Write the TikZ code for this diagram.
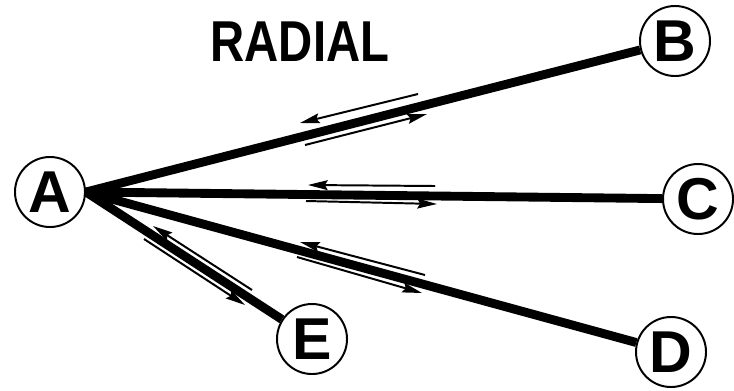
\documentclass[tikz,border=0pt]{standalone}
\usepackage{fontspec}
\setmainfont{Liberation Sans}
\usetikzlibrary{
	arrows.meta,
	positioning,
	calc
}

\tikzset{
	station/.style={draw, circle, line width=1.4pt, minimum size=1.75cm, inner sep=0pt,
		font=\fontsize{42}{42}\selectfont\bfseries},
	feeder/.style={line width=6.3pt},
	flow/.style={line width=1.4pt, -{Stealth[length=14pt,width=7pt,inset=2pt]}}
}

\begin{document}
\begin{tikzpicture}[x=0.025cm,y=-0.025cm]
		\useasboundingbox (0,0) rectangle (734,390);
		
		% Title
		\node[font=\fontsize{41}{41}\selectfont\bfseries] (title) at (300,42) {\scalebox{0.82}[1]{RADIAL}};
		
		% Stations
		\node[station] (A) at (50,192) {A};
		\node[station] (B) at (675,41) {B};
		\node[station] (C) at (698,199) {C};
		\node[station] (D) at (671,352) {D};
		\node[station] (E) at (312,339) {E};
		
		% Feeders out of A
		\draw[feeder] (A.east) -- (B);
		\draw[feeder] (A.east) -- (C);
		\draw[feeder] (A.east) -- (D);
		\draw[feeder] (A.east) -- (E);
		
		% Flow along A-B
		\draw[flow] (418,94) -- (300,123);
		\draw[flow] (305,145) -- (427,114);
		
		% Flow along A-C
		\draw[flow] (435,186) -- (308,185);
		\draw[flow] (306,201) -- (437,204);
		
		% Flow along A-D
		\draw[flow] (425,275) -- (300,242);
		\draw[flow] (297,257) -- (422,293);
		
		% Flow along A-E
		\draw[flow] (252,290) -- (153,226);
		\draw[flow] (144,239) -- (245,305);
		
	\end{tikzpicture}
\end{document}
